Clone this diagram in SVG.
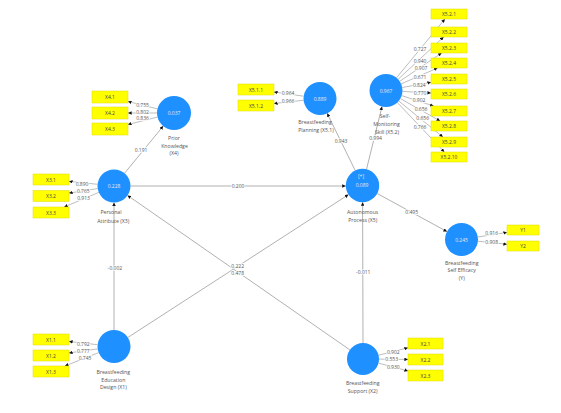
<svg xmlns="http://www.w3.org/2000/svg" width="561" height="413" viewBox="0 0 561 413">
<style>
text{font-family:"Open Sans","DejaVu Sans",sans-serif;text-anchor:middle;dominant-baseline:central}
.c{fill:#1E90FF}
.cv{fill:#e8e8e8;font-size:5px}
.nl{fill:#555;font-size:5.2px}
.b{fill:#FFFF00;stroke:#e0dc00;stroke-width:0.5}
.bt{fill:#444;font-size:5px}
.ln{stroke:#a8a8a8;stroke-width:0.9;fill:none;marker-end:url(#ah)}
.ld{stroke:#a0a0a0;stroke-width:0.7;fill:none;marker-end:url(#ah)}
.lbl{fill:#555;font-size:5px;stroke:#fff;stroke-width:1.6;paint-order:stroke}
</style>
<defs>
<marker id="ah" viewBox="0 0 10 10" refX="10" refY="5" markerUnits="userSpaceOnUse" markerWidth="3.6" markerHeight="3.6" orient="auto">
<path d="M0,0 L10,5 L0,10 z" fill="#111"/>
</marker>
</defs>
<rect width="561" height="413" fill="#fff"/>
<g id="connectors">
<!-- structural paths -->
<line class="ln" x1="124.5" y1="173.3" x2="163.2" y2="126.1"/>
<line class="ln" x1="130.5" y1="186" x2="345.8" y2="186"/>
<line class="ln" x1="355.2" y1="170.5" x2="327.2" y2="113.3"/>
<line class="ln" x1="366.5" y1="169.3" x2="382" y2="106.5"/>
<line class="ln" x1="377.2" y1="193.5" x2="447" y2="231.6"/>
<line class="ln" x1="114" y1="330" x2="114" y2="202.5"/>
<line class="ln" x1="363" y1="343" x2="362.6" y2="202.2"/>
<line class="ln" x1="127.8" y1="337.5" x2="348.5" y2="194.6"/>
<line class="ln" x1="349.9" y1="349.9" x2="127.5" y2="195.4"/>
<!-- loadings X4 -->
<line class="ld" x1="157.5" y1="108.9" x2="128" y2="101.5"/>
<line class="ld" x1="157" y1="113" x2="128" y2="113"/>
<line class="ld" x1="157.5" y1="117.1" x2="128" y2="124.5"/>
<!-- loadings X5.1 -->
<line class="ld" x1="303.7" y1="96.2" x2="274" y2="92"/>
<line class="ld" x1="303.6" y1="100.3" x2="274" y2="103.5"/>
<!-- loadings X5.2 -->
<line class="ld" x1="396.5" y1="77.8" x2="444.9" y2="19"/>
<line class="ld" x1="398.1" y1="79.3" x2="443.6" y2="37"/>
<line class="ld" x1="399.7" y1="81.3" x2="441.6" y2="53"/>
<line class="ld" x1="401.1" y1="83.9" x2="437.5" y2="68"/>
<line class="ld" x1="402.2" y1="87.5" x2="431" y2="82.3"/>
<line class="ld" x1="402.5" y1="91.4" x2="431" y2="93"/>
<line class="ld" x1="401.7" y1="95.6" x2="433.6" y2="106"/>
<line class="ld" x1="400.4" y1="98.6" x2="440.1" y2="121"/>
<line class="ld" x1="398.8" y1="101" x2="442.9" y2="137"/>
<line class="ld" x1="397.3" y1="102.5" x2="444.3" y2="152"/>
<!-- loadings X3 -->
<line class="ld" x1="97.6" y1="184.3" x2="69" y2="181.4"/>
<line class="ld" x1="97.7" y1="188.6" x2="69" y2="193.1"/>
<line class="ld" x1="98.8" y1="192.4" x2="64.2" y2="207"/>
<!-- loadings X1 -->
<line class="ld" x1="97.6" y1="344.7" x2="69" y2="341.5"/>
<line class="ld" x1="97.7" y1="348.9" x2="69" y2="352.9"/>
<line class="ld" x1="98.7" y1="352.6" x2="64.9" y2="366"/>
<!-- loadings X2 -->
<line class="ld" x1="378.5" y1="355.2" x2="408" y2="347.8"/>
<line class="ld" x1="379" y1="359.1" x2="408" y2="359.4"/>
<line class="ld" x1="378.5" y1="363.1" x2="408" y2="370.9"/>
<!-- loadings Y -->
<line class="ld" x1="477.8" y1="237" x2="507" y2="232.4"/>
<line class="ld" x1="477.9" y1="241.2" x2="507" y2="244.3"/>
<!-- path labels -->
<text class="lbl" x="141" y="150">0.191</text>
<text class="lbl" x="238" y="186">0.200</text>
<text class="lbl" x="341" y="141">0.943</text>
<text class="lbl" x="375.5" y="137.8">0.994</text>
<text class="lbl" x="411.7" y="211.8">0.495</text>
<text class="lbl" x="115" y="267.7">-0.002</text>
<text class="lbl" x="363.3" y="272.3">-0.011</text>
<text class="lbl" x="237.7" y="265.7">0.222</text>
<text class="lbl" x="237.7" y="272.9">0.478</text>
<!-- loading labels -->
<text class="lbl" x="142.5" y="105">0.755</text>
<text class="lbl" x="142.5" y="111.8">0.802</text>
<text class="lbl" x="142.5" y="118.4">0.836</text>
<text class="lbl" x="288" y="93">0.964</text>
<text class="lbl" x="288" y="100.6">0.966</text>
<text class="lbl" x="420" y="49.3">0.727</text>
<text class="lbl" x="420" y="60.7">0.940</text>
<text class="lbl" x="421" y="68.3">0.907</text>
<text class="lbl" x="420" y="76.7">0.671</text>
<text class="lbl" x="419.3" y="85">0.824</text>
<text class="lbl" x="420" y="92.5">0.770</text>
<text class="lbl" x="419" y="100.2">0.902</text>
<text class="lbl" x="421" y="109">0.656</text>
<text class="lbl" x="422.7" y="117.5">0.656</text>
<text class="lbl" x="420" y="127.3">0.766</text>
<text class="lbl" x="82" y="184.3">0.890</text>
<text class="lbl" x="83.3" y="191">0.765</text>
<text class="lbl" x="83.5" y="198.3">0.913</text>
<text class="lbl" x="83.3" y="344">0.792</text>
<text class="lbl" x="83.3" y="350.7">0.777</text>
<text class="lbl" x="85" y="358.3">0.745</text>
<text class="lbl" x="393.3" y="351.7">0.902</text>
<text class="lbl" x="391.7" y="359">0.553</text>
<text class="lbl" x="393.3" y="366.7">0.930</text>
<text class="lbl" x="491.7" y="233.3">0.916</text>
<text class="lbl" x="491.7" y="241.7">0.908</text>
</g>
<g id="X4">
<circle class="c" cx="174" cy="113" r="17"/>
<text class="cv" x="174" y="113">0.037</text>
<text class="nl" x="174" y="137.5">Prior</text>
<text class="nl" x="174.5" y="145.5">Knowledge</text>
<text class="nl" x="174" y="153.3">(X4)</text>
<rect class="b" x="92" y="91" width="36" height="12"/><text class="bt" x="110" y="97">X4.1</text>
<rect class="b" x="92" y="107" width="36" height="12"/><text class="bt" x="110" y="113">X4.2</text>
<rect class="b" x="92" y="123" width="36" height="12"/><text class="bt" x="110" y="129">X4.3</text>
</g>
<g id="X5_1">
<circle class="c" cx="320" cy="98.5" r="16.5"/>
<text class="cv" x="320" y="98.5">0.889</text>
<text class="nl" x="315" y="121.7">Breastfeeding</text>
<text class="nl" x="316" y="130">Planning (X5.1)</text>
<rect class="b" x="238" y="84" width="36" height="11"/><text class="bt" x="256" y="89.5">X5.1.1</text>
<rect class="b" x="238" y="100" width="36" height="11"/><text class="bt" x="256" y="105.5">X5.1.2</text>
</g>
<g id="X5_2">
<circle class="c" cx="386" cy="90.5" r="16.5"/>
<text class="cv" x="386" y="90.5">0.967</text>
<text class="nl" x="385" y="116">Self-</text>
<text class="nl" x="386.5" y="124">Monitoring</text>
<text class="nl" x="387" y="132">Skill  (X5.2)</text>
<rect class="b" x="431" y="9" width="36" height="10"/><text class="bt" x="449" y="14">X5.2.1</text>
<rect class="b" x="431" y="27" width="36" height="10"/><text class="bt" x="449" y="32">X5.2.2</text>
<rect class="b" x="431" y="43" width="36" height="10"/><text class="bt" x="449" y="48">X5.2.3</text>
<rect class="b" x="431" y="58" width="36" height="10"/><text class="bt" x="449" y="63">X5.2.4</text>
<rect class="b" x="431" y="74" width="36" height="10"/><text class="bt" x="449" y="79">X5.2.5</text>
<rect class="b" x="431" y="89" width="36" height="10"/><text class="bt" x="449" y="94">X5.2.6</text>
<rect class="b" x="431" y="106" width="36" height="10"/><text class="bt" x="449" y="111">X5.2.7</text>
<rect class="b" x="431" y="121" width="36" height="10"/><text class="bt" x="449" y="126">X5.2.8</text>
<rect class="b" x="431" y="137" width="36" height="10"/><text class="bt" x="449" y="142">X5.2.9</text>
<rect class="b" x="431" y="152" width="36" height="10"/><text class="bt" x="449" y="157">X5.2.10</text>
</g>
<g id="X3">
<circle class="c" cx="114" cy="186" r="16.5"/>
<text class="cv" x="114" y="186">0.228</text>
<text class="nl" x="111" y="212.3">Personal</text>
<text class="nl" x="113.3" y="221">Attribute (X3)</text>
<rect class="b" x="33" y="174" width="36" height="11"/><text class="bt" x="51" y="179.5">X3.1</text>
<rect class="b" x="33" y="190.5" width="36" height="11"/><text class="bt" x="51" y="196">X3.2</text>
<rect class="b" x="33" y="207" width="36" height="11"/><text class="bt" x="51" y="212.5">X3.3</text>
</g>
<g id="X5">
<circle class="c" cx="362.5" cy="185.5" r="16.7"/>
<text class="cv" x="361" y="176">[+]</text>
<text class="cv" x="362" y="184.5">0.089</text>
<text class="nl" x="362.7" y="211.7">Autonomous</text>
<text class="nl" x="362.7" y="219.5">Process (X5)</text>
</g>
<g id="Y">
<circle class="c" cx="461.5" cy="239.5" r="16.5"/>
<text class="cv" x="461.5" y="239.5">0.245</text>
<text class="nl" x="461.7" y="262.7">Breastfeeding</text>
<text class="nl" x="461.7" y="270">Self Efficacy</text>
<text class="nl" x="461.7" y="277.5">(Y)</text>
<rect class="b" x="507" y="225" width="32" height="10"/><text class="bt" x="523" y="230">Y1</text>
<rect class="b" x="507" y="241" width="32" height="10"/><text class="bt" x="523" y="246">Y2</text>
</g>
<g id="X1">
<circle class="c" cx="114" cy="346.5" r="16.5"/>
<text class="nl" x="113.3" y="372.3">Breastfeeding</text>
<text class="nl" x="113.3" y="379.5">Education</text>
<text class="nl" x="113.3" y="386.8">Design (X1)</text>
<rect class="b" x="33" y="334" width="36" height="11"/><text class="bt" x="51" y="339.5">X1.1</text>
<rect class="b" x="33" y="350" width="36" height="11"/><text class="bt" x="51" y="355.5">X1.2</text>
<rect class="b" x="33" y="366" width="36" height="11"/><text class="bt" x="51" y="371.5">X1.3</text>
</g>
<g id="X2">
<circle class="c" cx="363" cy="359" r="16"/>
<text class="nl" x="362.7" y="383.3">Breastfeeding</text>
<text class="nl" x="362.7" y="391">Support (X2)</text>
<rect class="b" x="408" y="338" width="35" height="11"/><text class="bt" x="425.5" y="343.5">X2.1</text>
<rect class="b" x="408" y="354" width="35" height="11"/><text class="bt" x="425.5" y="359.5">X2.2</text>
<rect class="b" x="408" y="370" width="35" height="11"/><text class="bt" x="425.5" y="375.5">X2.3</text>
</g>
</svg>
